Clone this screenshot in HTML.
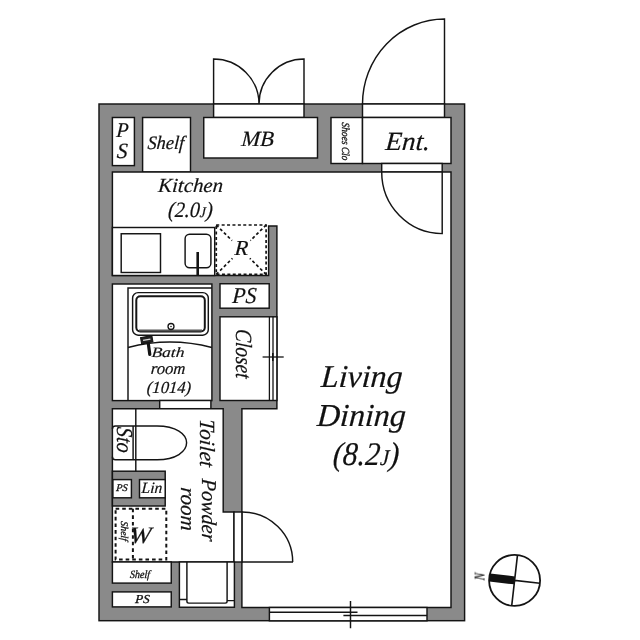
<!DOCTYPE html>
<html><head><meta charset="utf-8">
<style>
html,body{margin:0;padding:0;background:#fff;width:640px;height:640px;overflow:hidden}
svg{display:block}
text{font-family:"Liberation Serif",serif;font-style:italic;fill:#111;stroke:#111;stroke-width:0.2px}
</style></head><body>
<svg width="640" height="640" viewBox="0 0 640 640">
<g fill="#fff" stroke="#141414" stroke-width="1.45">
<!-- outer walls -->
<rect x="99" y="104" width="365.6" height="516.7" fill="#8a8a8a"/>
<!-- top openings -->
<rect x="213.6" y="104" width="90.4" height="13.5"/>
<rect x="362.5" y="104" width="82" height="13.5"/>
<!-- top boxes -->
<rect x="112.4" y="117.5" width="22" height="48.1"/>
<rect x="142.6" y="117.5" width="47.9" height="54.5"/>
<rect x="203.75" y="117.5" width="113.75" height="40.5"/>
<rect x="331" y="117.5" width="31.5" height="46"/>
<rect x="362.5" y="117.5" width="88.5" height="46"/>
<rect x="381.7" y="163.5" width="60.5" height="8.5"/>
<!-- main room -->
<polygon points="112.4,172 451,172 451,607.5 241.9,607.5 241.9,408.7 276.9,408.7 276.9,226 268.6,226 268.6,275.5 112.4,275.5"/>
<!-- counter -->
<rect x="112.4" y="227.5" width="102.3" height="48"/>
<rect x="121.2" y="233.75" width="39.3" height="38.75"/>
<rect x="185.1" y="234.3" width="25.8" height="33.5" rx="4.5"/>
<line x1="197.7" y1="252" x2="197.7" y2="275.5" stroke-width="2.6"/>
<!-- R box -->
<g stroke-dasharray="3 2.4" stroke-width="1.7" fill="none">
<rect x="216.25" y="225" width="49.85" height="49.4"/>
<path d="M216.25,225 L232,240.6 M266.1,225 L250.4,240.6 M216.25,274.4 L232.5,258.3 M266.1,274.4 L249.8,258.3"/>
</g>
<!-- bath -->
<rect x="112.4" y="284" width="99.5" height="116.6"/>
<path d="M128,400.6 V288 H211.9" fill="none"/>
<rect x="132.6" y="292.6" width="75.7" height="42.6" rx="5.5"/>
<rect x="136.3" y="296.2" width="68.5" height="35.3" rx="4" stroke-width="2"/>
<line x1="139" y1="330.6" x2="202" y2="330.6" stroke="#555" stroke-width="2"/>
<circle cx="171" cy="326.5" r="3" stroke-width="1.3"/>
<circle cx="171" cy="326.5" r="0.8" fill="#1c1c1c" stroke="none"/>
<path d="M128,347.5 Q170,336.5 211.9,347.5" fill="none"/>
<g transform="rotate(-10 146.5 339.8)">
<rect x="141" y="336.6" width="11.5" height="6.4" fill="#222" stroke-width="1"/>
<line x1="143" y1="339.8" x2="150.5" y2="339.8" stroke="#ddd" stroke-width="1.4"/>
</g>
<line x1="148.3" y1="343.5" x2="149.8" y2="354.5" stroke-width="3.2" stroke-linecap="round"/>
<!-- PS & closet -->
<rect x="220" y="283.75" width="49.2" height="24.45"/>
<rect x="220" y="316.8" width="56.9" height="83.7"/>
<line x1="269.4" y1="316.8" x2="269.4" y2="400.5" stroke-width="1.3"/>
<line x1="273" y1="316.8" x2="273" y2="400.5" stroke-width="1.3"/>
<line x1="262.6" y1="357" x2="283.7" y2="357" stroke-width="1.3"/>
<line x1="272.8" y1="353" x2="272.8" y2="361" stroke-width="1.6"/>
<!-- bath door opening -->
<rect x="159.7" y="400.5" width="51.2" height="8.2"/>
<!-- toilet & wash -->
<polygon points="112.4,408.7 223.2,408.7 223.2,512 234,512 234,562 112.4,562"/>
<rect x="234" y="512" width="7.9" height="50"/>
<line x1="242" y1="562" x2="293" y2="562"/>
<path d="M242,512 A50.5,50 0 0 1 292.7,562" fill="none"/>
<rect x="112.4" y="471.2" width="52.8" height="34.8" fill="#8a8a8a"/>
<rect x="112.9" y="479.6" width="18.5" height="18.2"/>
<rect x="139.5" y="479.6" width="25.7" height="18.2"/>
<line x1="135.8" y1="408.7" x2="135.8" y2="471.2"/>
<path d="M135.8,426 H115.4 Q112.4,426 112.4,429 M112.4,456.7 Q112.4,459.7 115.4,459.7 H135.8 M133.1,426 V459.7" fill="none"/>
<path d="M135.8,426 H157 C176,426 186.6,434 186.6,442.8 C186.6,451.5 176,459.7 157,459.7 H135.8" fill="none"/>
<g stroke-dasharray="3.6 3" stroke-width="2" fill="none">
<rect x="115.6" y="508.75" width="50.7" height="50.85"/>
<line x1="132.9" y1="508.75" x2="132.9" y2="559.6"/>
</g>
<!-- bottom items -->
<rect x="112.4" y="562" width="58.85" height="21.1"/>
<rect x="112.4" y="591.9" width="58.85" height="15"/>
<rect x="179.4" y="562" width="55" height="45.25"/>
<path d="M186.9,562 V601.3 Q186.9,603.1 188.7,603.1 H225.3 Q227.1,603.1 227.1,601.3 V562 M179.4,599.4 H186.9 M227.1,600.6 H234.4" fill="none"/>
<!-- bottom window -->
<rect x="269.4" y="607.5" width="157.6" height="13.3"/>
<path d="M269.4,612.3 H357.5 M343.4,615.4 H427 M350.5,601 V628.3" fill="none"/>
<!-- balcony doors -->
<path d="M213.6,104 V59 A45.4,45 0 0 1 259,104 M304,104 V59 A45,45 0 0 0 259,104" fill="none"/>
<!-- entry door -->
<path d="M444.5,104 V19 A82,85 0 0 0 362.5,104" fill="none"/>
<!-- inner door -->
<path d="M442.2,172 V233.6 A60.5,61.6 0 0 1 381.7,172" fill="none"/>
<!-- compass -->
<circle cx="514.6" cy="580.4" r="25.5" stroke-width="1.8"/>
<g transform="rotate(6.5 514.6 580.4)">
<path d="M514.6,555 V606 M489,580.4 H540" fill="none" stroke-width="1.6"/>
<rect x="489.5" y="576.4" width="25" height="8" fill="#111" stroke="none"/>
</g>
</g>
<g id="texts" opacity="0.999">
<text transform="translate(122.16,136.52) scale(0.911,0.949) skewX(-4)" font-size="22" text-anchor="middle">P</text>
<text transform="translate(121.81,158.48) scale(0.973,0.984) skewX(-4)" font-size="22" text-anchor="middle">S</text>
<text transform="translate(165.51,149.05) scale(0.993,1.026) skewX(-4)" font-size="18.5" text-anchor="middle">Shelf</text>
<text transform="translate(257.27,145.53) scale(0.978,0.942) skewX(-4)" font-size="23" text-anchor="middle">MB</text>
<text transform="translate(407.23,149.85) scale(0.954,0.921) skewX(-4)" font-size="28.5" text-anchor="middle">Ent.</text>
<text transform="translate(341.52,141.29) rotate(90) scale(0.900,1.038) skewX(-4)" font-size="10.5" text-anchor="middle" style="stroke-width:0.3px">Shoes Clo</text>
<text transform="translate(190.32,191.95) scale(0.971,0.927) skewX(-4)" font-size="21.5" text-anchor="middle">Kitchen</text>
<text transform="translate(190.10,217.34) scale(0.957,1.042) skewX(-4)" font-size="21" text-anchor="middle">(2.0<tspan font-size="0.68em">J</tspan>)</text>
<text transform="translate(240.99,255.38) scale(1.055,1.015) skewX(-4)" font-size="21" text-anchor="middle">R</text>
<text transform="translate(244.10,302.53) scale(0.922,0.968) skewX(-4)" font-size="23.5" text-anchor="middle">PS</text>
<text transform="translate(236.19,353.47) rotate(90) scale(0.919,1.101) skewX(-4)" font-size="21" text-anchor="middle">Closet</text>
<text transform="translate(167.69,357.34) scale(1.092,0.889) skewX(-4)" font-size="16" text-anchor="middle">Bath</text>
<text transform="translate(167.86,374.49) scale(1.046,1.057) skewX(-4)" font-size="16" text-anchor="middle">room</text>
<text transform="translate(168.69,392.80) scale(1.007,1.024) skewX(-4)" font-size="16.5" text-anchor="middle">(1014)</text>
<text transform="translate(361.26,387.08) scale(1.028,1.028) skewX(-4)" font-size="31" text-anchor="middle">Living</text>
<text transform="translate(360.90,426.09) scale(1.030,1.032) skewX(-4)" font-size="31" text-anchor="middle">Dining</text>
<text transform="translate(365.51,465.05) scale(0.963,1.066) skewX(-4)" font-size="31" text-anchor="middle">(8.2<tspan font-size="0.68em">J</tspan>)</text>
<text transform="translate(117.20,439.55) rotate(90) scale(0.966,1.089) skewX(-4)" font-size="21" text-anchor="middle">Sto</text>
<text transform="translate(199.67,442.62) rotate(90) scale(1.016,1.028) skewX(-4)" font-size="21" text-anchor="middle">Toilet</text>
<text transform="translate(201.86,509.74) rotate(90) scale(0.963,1.008) skewX(-4)" font-size="21" text-anchor="middle">Powder</text>
<text transform="translate(180.78,508.70) rotate(90) scale(1.047,1.059) skewX(-4)" font-size="20" text-anchor="middle">room</text>
<text transform="translate(121.63,490.53) scale(0.984,0.976) skewX(-4)" font-size="10.5" text-anchor="middle" style="stroke-width:0.3px">PS</text>
<text transform="translate(151.72,492.53) scale(1.004,1.017) skewX(-4)" font-size="15.5" text-anchor="middle">Lin</text>
<text transform="translate(120.56,530.96) rotate(90) scale(0.901,0.946) skewX(-4)" font-size="11" text-anchor="middle" style="stroke-width:0.3px">Shelf</text>
<text transform="translate(139.92,542.83) scale(1.175,1.077) skewX(-4)" font-size="22" text-anchor="middle">W</text>
<text transform="translate(139.71,578.00) scale(0.915,1.012) skewX(-4)" font-size="11" text-anchor="middle" style="stroke-width:0.3px">Shelf</text>
<text transform="translate(142.19,603.21) scale(1.121,1.056) skewX(-4)" font-size="11.5" text-anchor="middle" style="stroke-width:0.3px">PS</text>
<text transform="translate(484.91,576.91) rotate(-90) scale(0.847,1.111) skewX(-4)" font-size="13" text-anchor="middle">N</text>
</g>
</svg>
</body></html>
